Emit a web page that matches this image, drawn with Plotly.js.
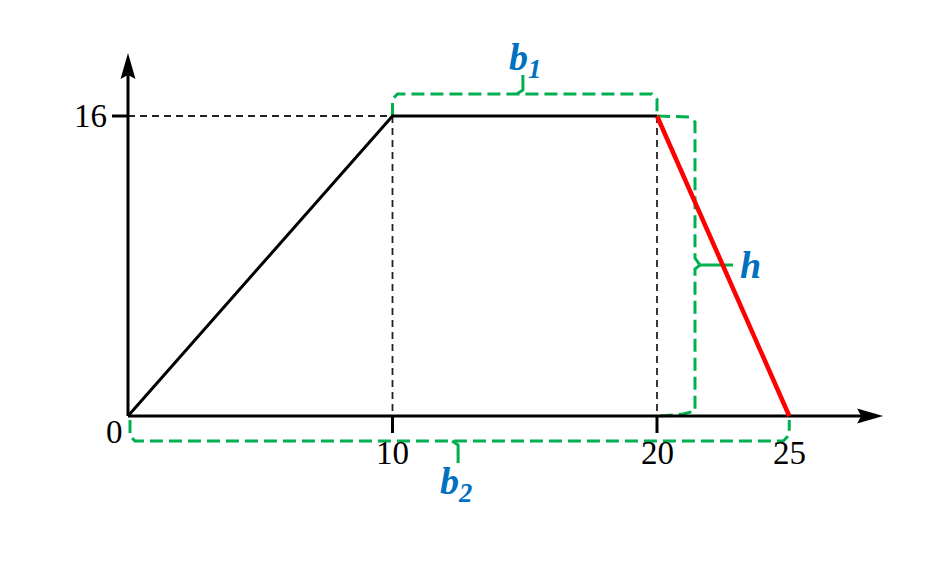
<!DOCTYPE html>
<html>
<head>
<meta charset="utf-8">
<script src="https://cdn.plot.ly/plotly-3.0.1.min.js"></script>
<style>html,body{margin:0;padding:0;background:#fff;}#chart{width:925px;height:568px;}</style>
</head>
<body>
<div id="chart"></div>
<script>
// ---- data ----
const pathX = [0, 10, 20];          // rising + flat part
const pathY = [0, 16, 16];
const fallX = [20, 25];             // falling (red) part
const fallY = [16, 0];
const xTickVals = [10, 20];         // tick marks on x axis
const xLabelVals = [10, 20, 25];    // tick labels on x axis
const xLabelText = ["10", "20", "25"];
const yTickVals = [16];
const yLabelText = ["16"];
const originLabel = "0";
const xAxisEnd = 28.55;
const yAxisEnd = 19.36;

// ---- scale helpers (pixels -> data units) ----
const PX = 26.45, PY = 18.75;
const dx = p => p / PX, dy = p => p / PY;

const GREEN = '#00b050', BLUE = '#0070c0';
const gLine = {color: GREEN, width: 3, dash: '13px,6px'};
const traces = [];

// b1 bracket (over the flat top)
const b1y = 16 + dy(22), b1mid = 14.93;
traces.push({x: [10, 10, 10 + dx(5), 20 - dx(5), 20, 20],
  y: [16, b1y - dy(5), b1y, b1y, b1y - dy(5), 16], mode: 'lines', line: gLine});
traces.push({x: [b1mid - dx(6), b1mid, b1mid], y: [b1y, b1y + dy(4), b1y + dy(19)], mode: 'lines', line: {color: GREEN, width: 3}});

// h bracket (height of falling part)
const hx = 20 + dx(38), hmid = 8.05;
traces.push({x: [20, hx - dx(6), hx, hx, hx + dx(5)],
  y: [16, 16 - dy(1), 16 - dy(6), hmid + dy(7), hmid], mode: 'lines', line: gLine});
traces.push({x: [hx + dx(5), hx, hx, hx - dx(12), 20 + dx(3)],
  y: [hmid, hmid - dy(4), dy(5), dy(2), dy(0)], mode: 'lines', line: gLine});
traces.push({x: [hx + dx(5), hx + dx(38)], y: [hmid, hmid], mode: 'lines', line: {color: GREEN, width: 3}});

// b2 bracket (under the whole base)
const b2y = -dy(25), b2mid = 12.48;
traces.push({x: [dx(2), dx(2), dx(7), 25 - dx(6), 25, 25],
  y: [-dy(4), b2y + dy(5), b2y, b2y, b2y + dy(6), -dy(4)], mode: 'lines', line: gLine});
traces.push({x: [b2mid - dx(6), b2mid, b2mid], y: [b2y, b2y - dy(4), b2y - dy(22)], mode: 'lines', line: {color: GREEN, width: 3}});

// dashed guide lines
traces.push({x: [0, 10, null, 10, 10, null, 20, 20], y: [16, 16, null, 16, 0, null, 16, 0],
  mode: 'lines', line: {color: '#222', width: 1.8, dash: '7px,5px'}});

// ticks
const tx = [], ty = [];
xTickVals.forEach(v => { tx.push(v, v, null); ty.push(0, -dy(17), null); });
yTickVals.forEach(v => { tx.push(-dx(16), 0, null); ty.push(v, v, null); });
traces.push({x: tx, y: ty, mode: 'lines', line: {color: '#000', width: 3}});

// axes lines
traces.push({x: [0, xAxisEnd - dx(22), null, 0, 0], y: [0, 0, null, 0, yAxisEnd - dy(22)],
  mode: 'lines', line: {color: '#000', width: 3}});

// main graph
traces.push({x: pathX, y: pathY, mode: 'lines', line: {color: '#000', width: 3}});
traces.push({x: fallX, y: fallY, mode: 'lines', line: {color: '#ff0000', width: 4.5}});

// arrowheads
const L = 26, W = 7.5, N = 4;
const shapes = [
  {type: 'path', xref: 'x', yref: 'y', fillcolor: '#000', line: {width: 0},
   path: `M${xAxisEnd},0 L${xAxisEnd - dx(L)},${dy(W)} L${xAxisEnd - dx(L - N)},0 L${xAxisEnd - dx(L)},${-dy(W)} Z`},
  {type: 'path', xref: 'x', yref: 'y', fillcolor: '#000', line: {width: 0},
   path: `M0,${yAxisEnd} L${dx(W)},${yAxisEnd - dy(L)} L0,${yAxisEnd - dy(L - N)} L${-dx(W)},${yAxisEnd - dy(L)} Z`}
];

// annotations
const tickFont = {family: 'Liberation Serif, Times New Roman, serif', size: 33, color: '#000'};
const lblFont = {family: 'Liberation Serif, Times New Roman, serif', size: 38, color: BLUE};
const annotations = [];
xLabelVals.forEach((v, i) => annotations.push({x: v, y: -dy(37), text: xLabelText[i], showarrow: false,
  xanchor: 'center', yanchor: 'middle', font: tickFont}));
yTickVals.forEach((v, i) => annotations.push({x: -dx(38), y: v, text: yLabelText[i], showarrow: false,
  xanchor: 'center', yanchor: 'middle', font: tickFont}));
annotations.push({x: -dx(14), y: -dy(16), text: originLabel, showarrow: false, xanchor: 'center', yanchor: 'middle', font: tickFont});
annotations.push({x: 15.0, y: 18.99, text: '<b><i>b<sub>1</sub></i></b>', showarrow: false, xanchor: 'center', yanchor: 'middle', font: lblFont});
annotations.push({x: 12.40, y: -3.63, text: '<b><i>b<sub>2</sub></i></b>', showarrow: false, xanchor: 'center', yanchor: 'middle', font: lblFont});
annotations.push({x: 23.55, y: 8.05, text: '<b><i>h</i></b>', showarrow: false, xanchor: 'center', yanchor: 'middle', font: lblFont});

traces.forEach(t => { t.hoverinfo = 'skip'; t.showlegend = false; });

const layout = {
  width: 925, height: 568,
  margin: {l: 0, r: 0, t: 0, b: 0},
  paper_bgcolor: '#fff', plot_bgcolor: '#fff',
  xaxis: {range: [-128 / PX, (925 - 128) / PX], visible: false, fixedrange: true},
  yaxis: {range: [-(568 - 416) / PY, 416 / PY], visible: false, fixedrange: true},
  shapes: shapes, annotations: annotations, showlegend: false
};
Plotly.newPlot('chart', traces, layout, {displayModeBar: false, staticPlot: true});
</script>
</body>
</html>
